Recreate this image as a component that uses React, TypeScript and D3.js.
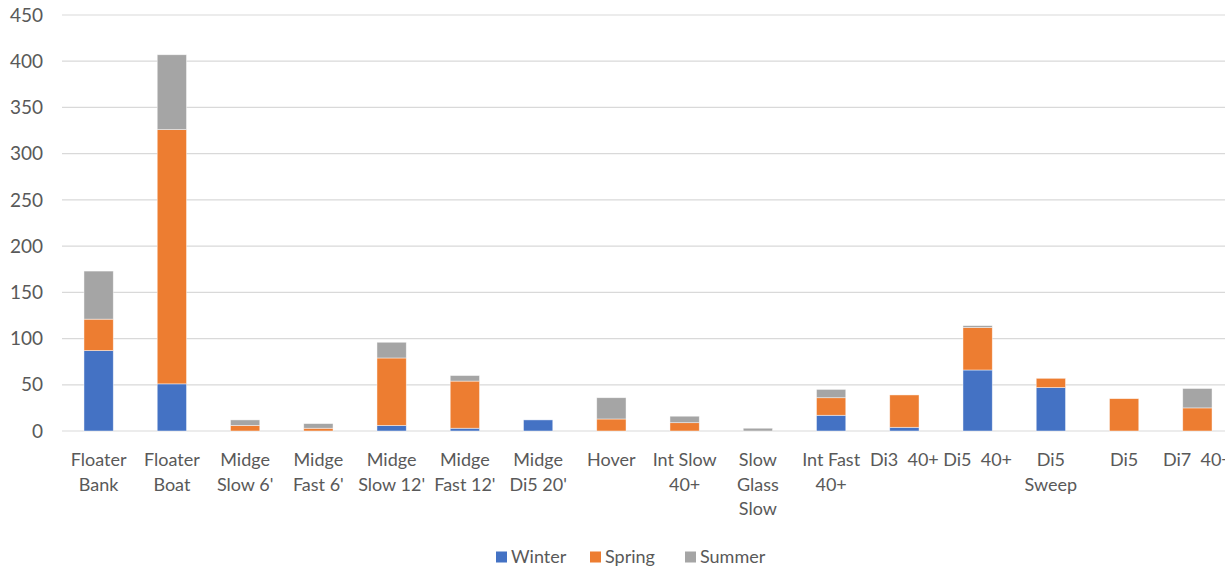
import React, { useEffect, useRef } from "react";
import * as d3 from "d3";

const categories = [
  "Floater\nBank",
  "Floater\nBoat",
  "Midge\nSlow 6'",
  "Midge\nFast 6'",
  "Midge\nSlow 12'",
  "Midge\nFast 12'",
  "Midge\nDi5 20'",
  "Hover",
  "Int Slow\n40+",
  "Slow\nGlass\nSlow",
  "Int Fast\n40+",
  "Di3  40+",
  "Di5  40+",
  "Di5\nSweep",
  "Di5",
  "Di7  40+",
];
const winter = [87, 51, 0, 0, 6, 3, 12, 0, 0, 0, 17, 4, 66, 47, 0, 0];
const spring = [34, 275, 6, 3, 73, 51, 0, 13, 9, 0, 19, 35, 46, 10, 35, 25];
const summer = [52, 81, 6, 5, 17, 6, 0, 23, 7, 3, 9, 0, 2, 0, 0, 21];
const seriesNames = ["Winter", "Spring", "Summer"];
const seriesColors = ["#4472C4", "#ED7D31", "#A5A5A5"];
const yTicks = [0, 50, 100, 150, 200, 250, 300, 350, 400, 450];

const W = 1225;
const H = 569;
const FONT = "Lato, 'Open Sans', sans-serif";

export default function App() {
  const ref = useRef<SVGSVGElement | null>(null);

  useEffect(() => {
    const svg = d3.select(ref.current);
    svg.selectAll("*").remove();

    const x = d3
      .scaleBand<number>()
      .domain(d3.range(categories.length))
      .range([62, 1234])
      .paddingInner(0.6)
      .paddingOuter(0.3);
    const y = d3.scaleLinear().domain([0, 450]).range([431, 15]);

    // gridlines
    svg
      .append("g")
      .selectAll("line")
      .data(yTicks)
      .join("line")
      .attr("x1", 62)
      .attr("x2", W)
      .attr("y1", (d) => y(d))
      .attr("y2", (d) => y(d))
      .attr("stroke", "#D9D9D9")
      .attr("stroke-width", 1.2);

    // y labels
    svg
      .append("g")
      .selectAll("text")
      .data(yTicks)
      .join("text")
      .attr("x", 43)
      .attr("y", (d) => y(d))
      .attr("dy", "0.35em")
      .attr("text-anchor", "end")
      .attr("font-family", FONT)
      .attr("font-size", 19)
      .attr("fill", "#595959")
      .text((d) => d);

    const rows = categories.map((c, i) => ({
      i,
      Winter: winter[i],
      Spring: spring[i],
      Summer: summer[i],
    }));
    const stack = d3.stack<any>().keys(seriesNames)(rows);

    const g = svg.append("g");
    stack.forEach((layer, si) => {
      g.append("g")
        .selectAll("rect")
        .data(layer.filter((d) => d[1] - d[0] > 0))
        .join("rect")
        .attr("x", (d: any) => x(d.data.i)!)
        .attr("width", x.bandwidth())
        .attr("y", (d) => y(d[1]))
        .attr("height", (d) => y(d[0]) - y(d[1]))
        .attr("fill", seriesColors[si])
        .attr("stroke", "#ffffff")
        .attr("stroke-opacity", 0.6)
        .attr("stroke-width", 0.75);
    });

    // x labels
    const xl = svg.append("g");
    categories.forEach((c, i) => {
      const t = xl
        .append("text")
        .attr("x", x(i)! + x.bandwidth() / 2)
        .attr("y", 466)
        .attr("text-anchor", "middle")
        .attr("font-family", FONT)
        .attr("font-size", 18)
        .attr("fill", "#595959")
        .attr("xml:space", "preserve")
        .style("white-space", "pre");
      c.split("\n").forEach((line, li) => {
        t.append("tspan")
          .attr("x", x(i)! + x.bandwidth() / 2)
          .attr("y", 466 + li * 24.5)
          .text(line);
      });
    });

    // legend
    const legendX = [496, 590, 685];
    const lg = svg.append("g");
    seriesNames.forEach((s, i) => {
      lg.append("rect")
        .attr("x", legendX[i])
        .attr("y", 551.5)
        .attr("width", 11)
        .attr("height", 11)
        .attr("fill", seriesColors[i]);
      lg.append("text")
        .attr("x", legendX[i] + 15)
        .attr("y", 557)
        .attr("dy", "0.35em")
        .attr("font-family", FONT)
        .attr("font-size", 18)
        .attr("fill", "#595959")
        .text(s);
    });
  }, []);

  return (
    <svg
      ref={ref}
      width={W}
      height={H}
      style={{ position: "absolute", left: 0, top: 0, background: "#fff", display: "block" }}
    />
  );
}
